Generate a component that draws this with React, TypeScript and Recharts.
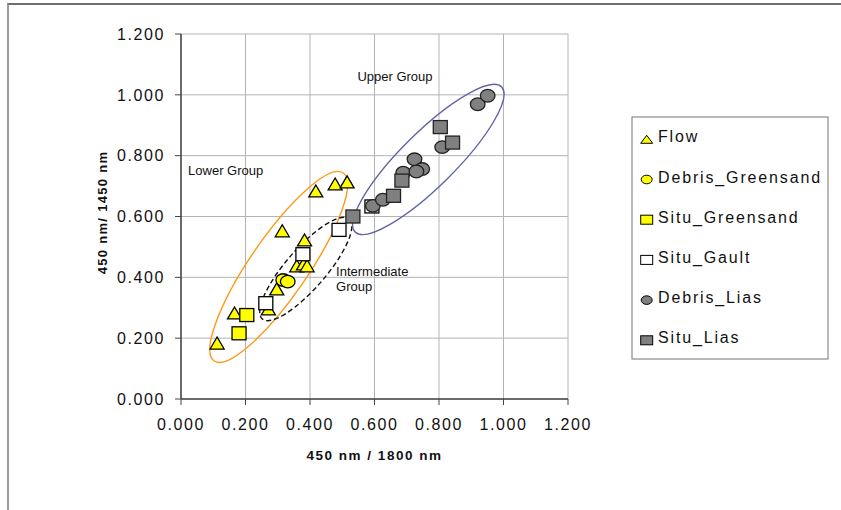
import React from "react";
import {
  CartesianGrid,
  Label,
  ReferenceArea,
  ReferenceDot,
  Scatter,
  ScatterChart,
  XAxis,
  YAxis,
} from "recharts";

// [x, y] readings, 450/1800 vs 450/1450
const flow = [
  [0.112, 0.184], [0.166, 0.283], [0.314, 0.553], [0.418, 0.684], [0.478, 0.707],
  [0.515, 0.714], [0.383, 0.523], [0.359, 0.438], [0.38, 0.444], [0.391, 0.438],
  [0.297, 0.362], [0.271, 0.296],
];
const debrisGreensand = [[0.317, 0.391], [0.331, 0.386]];
const situGreensand = [[0.204, 0.276], [0.18, 0.216]];
const situGault = [[0.263, 0.315], [0.378, 0.476], [0.49, 0.556], [0.592, 0.633]];
const debrisLias = [
  [0.595, 0.635], [0.626, 0.655], [0.689, 0.744], [0.724, 0.788], [0.748, 0.756],
  [0.73, 0.748], [0.81, 0.828], [0.92, 0.969], [0.951, 0.997],
];
const situLias = [[0.533, 0.6], [0.659, 0.668], [0.685, 0.718], [0.804, 0.894], [0.842, 0.843]];

const xTicks = [0, 0.2, 0.4, 0.6, 0.8, 1.0, 1.2];
const yTicks = [0, 0.2, 0.4, 0.6, 0.8, 1.0, 1.2];

// group outlines: ends of the long axis, in data units
const groupNames = ["Lower", "Intermediate", "Upper"];
const groupX1 = [0.103, 0.252, 0.54];
const groupY1 = [0.125, 0.263, 0.549];
const groupX2 = [0.503, 0.522, 0.994];
const groupY2 = [0.743, 0.592, 1.026];

// annotation anchors (text baseline, left)
const noteLines = [["Lower Group"], ["Intermediate", "Group"], ["Upper Group"]];
const noteX = [0.022, 0.481, 0.547];
const noteY = [0.737, 0.405, 1.046];

const toPts = (arr: number[][]) => arr.map(([x, y]) => ({ x, y }));

const FONT = "'Liberation Sans', Arial, sans-serif";

const outlineStyle: Record<string, { stroke: string; ry: number; dash?: string }> = {
  Lower: { stroke: "#ff9912", ry: 29 },
  Intermediate: { stroke: "#111", ry: 20, dash: "5 3" },
  Upper: { stroke: "#6264a8", ry: 27 },
};

function triangle(fill: string) {
  return (p: any) => (
    <polygon
      points={`${p.cx - 7},${p.cy + 6} ${p.cx + 7},${p.cy + 6} ${p.cx},${p.cy - 6}`}
      fill={fill}
      stroke="#000"
      strokeWidth={1.3}
    />
  );
}
function square(fill: string, stroke = "#000") {
  return (p: any) => (
    <rect x={p.cx - 7} y={p.cy - 6.5} width={14} height={13} fill={fill} stroke={stroke} strokeWidth={1.3} />
  );
}
function circle(fill: string, stroke = "#000") {
  return (p: any) => <ellipse cx={p.cx} cy={p.cy} rx={7.3} ry={6.3} fill={fill} stroke={stroke} strokeWidth={1.3} />;
}

function outline(name: string) {
  const s = outlineStyle[name];
  return (p: any) => {
    const cx = p.x + p.width / 2;
    const cy = p.y + p.height / 2;
    const rx = Math.hypot(p.width, p.height) / 2;
    const ang = (-Math.atan2(p.height, p.width) * 180) / Math.PI;
    return (
      <ellipse
        cx={cx}
        cy={cy}
        rx={rx}
        ry={s.ry}
        transform={`rotate(${ang} ${cx} ${cy})`}
        fill="none"
        stroke={s.stroke}
        strokeWidth={1.4}
        strokeDasharray={s.dash}
      />
    );
  };
}

function note(lines: string[]) {
  return (p: any) => (
    <text x={p.cx} y={p.cy} fontFamily={FONT} fontSize={13} fill="#111">
      {lines.map((l, i) => (
        <tspan key={l} x={p.cx} dy={i === 0 ? 0 : 15}>
          {l}
        </tspan>
      ))}
    </text>
  );
}

const XTick = (p: any) => (
  <text x={p.x} y={p.y + 23} textAnchor="middle" fontFamily={FONT} fontSize={16} letterSpacing={1.6} fill="#111">
    {Number(p.payload.value).toFixed(3)}
  </text>
);
const YTick = (p: any) => (
  <text x={p.x} y={p.y} dy="0.36em" textAnchor="end" fontFamily={FONT} fontSize={16} letterSpacing={1.6} fill="#111">
    {Number(p.payload.value).toFixed(3)}
  </text>
);

const XTitle = (p: any) => {
  const vb = p.viewBox || { x: 181, y: 399, width: 387 };
  return (
    <text
      x={vb.x + vb.width / 2}
      y={vb.y + 61}
      textAnchor="middle"
      fontFamily={FONT}
      fontWeight="bold"
      fontSize={13.5}
      letterSpacing={1.5}
      fill="#111"
    >
      450 nm / 1800 nm
    </text>
  );
};
const YTitle = (p: any) => {
  const vb = p.viewBox || { x: 101, y: 34, height: 365 };
  const x = vb.x + 6;
  const y = vb.y + vb.height / 2 - 4;
  return (
    <text
      x={x}
      y={y}
      transform={`rotate(-90 ${x} ${y})`}
      textAnchor="middle"
      fontFamily={FONT}
      fontWeight="bold"
      fontSize={13}
      letterSpacing={1.3}
      fill="#111"
    >
      450 nm/ 1450 nm
    </text>
  );
};

const legendItems = [
  { name: "Flow", kind: "tri", fill: "#ffff00" },
  { name: "Debris_Greensand", kind: "circ", fill: "#ffff00" },
  { name: "Situ_Greensand", kind: "sq", fill: "#ffff00" },
  { name: "Situ_Gault", kind: "sq", fill: "#ffffff" },
  { name: "Debris_Lias", kind: "circ", fill: "#808080" },
  { name: "Situ_Lias", kind: "sq", fill: "#808080" },
];

function LegendBox() {
  return (
    <svg style={{ position: "absolute", left: 631, top: 116 }} width={199} height={245}>
      <rect x={1} y={1} width={196} height={242} fill="#fff" stroke="#8a8a8a" strokeWidth={1.2} />
      {legendItems.map((it, i) => {
        const base = 26.3 + i * 40.2;
        const cx = 15.7;
        const cy = base - 3;
        let icon;
        if (it.kind === "tri")
          icon = <polygon points={`${cx - 6},${cy + 4} ${cx + 6},${cy + 4} ${cx},${cy - 4}`} fill={it.fill} stroke="#000" strokeWidth={1} />;
        else if (it.kind === "circ")
          icon = <ellipse cx={cx} cy={cy} rx={5.5} ry={4.3} fill={it.fill} stroke="#000" strokeWidth={1} />;
        else icon = <rect x={cx - 6} y={cy - 4.5} width={12} height={9} fill={it.fill} stroke="#000" strokeWidth={1} />;
        return (
          <g key={it.name}>
            {icon}
            <text x={27} y={base} fontFamily={FONT} fontSize={16} letterSpacing={1.85} fill="#111">
              {it.name}
            </text>
          </g>
        );
      })}
    </svg>
  );
}

export default function App() {
  return (
    <div style={{ position: "absolute", left: 0, top: 0, width: 841, height: 510, overflow: "hidden", background: "#fff" }}>
      <div
        style={{
          position: "absolute",
          left: 7,
          top: 3,
          width: 900,
          height: 600,
          borderTop: "2px solid #6e6e6e",
          borderLeft: "2px solid #9a9a9a",
        }}
      />
      <div style={{ position: "absolute", left: 0, top: 0 }}>
        <ScatterChart width={841} height={510} margin={{ top: 34, right: 273, bottom: 51, left: 101 }}>
          <CartesianGrid stroke="#b4b4b4" strokeWidth={1} />
          <XAxis
            type="number"
            dataKey="x"
            domain={[0, 1.2]}
            ticks={xTicks}
            interval={0}
            height={60}
            tickSize={6}
            tickMargin={2}
            tick={<XTick />}
            stroke="#444"
            axisLine={{ stroke: "#444", strokeWidth: 1.5 }}
            allowDataOverflow
          >
            <Label content={<XTitle />} />
          </XAxis>
          <YAxis
            type="number"
            dataKey="y"
            domain={[0, 1.2]}
            ticks={yTicks}
            interval={0}
            width={80}
            tickSize={6}
            tickMargin={10}
            tick={<YTick />}
            stroke="#444"
            axisLine={{ stroke: "#444", strokeWidth: 1.5 }}
            allowDataOverflow
          >
            <Label content={<YTitle />} />
          </YAxis>
          <Scatter name="Flow" data={toPts(flow)} shape={triangle("#ffff00")} isAnimationActive={false} />
          <Scatter name="Debris_Greensand" data={toPts(debrisGreensand)} shape={circle("#ffff00")} isAnimationActive={false} />
          <Scatter name="Situ_Greensand" data={toPts(situGreensand)} shape={square("#ffff00")} isAnimationActive={false} />
          <Scatter name="Situ_Gault" data={toPts(situGault)} shape={square("#ffffff")} isAnimationActive={false} />
          <Scatter name="Debris_Lias" data={toPts(debrisLias)} shape={circle("#808080", "#222")} isAnimationActive={false} />
          <Scatter name="Situ_Lias" data={toPts(situLias)} shape={square("#808080", "#222")} isAnimationActive={false} />
          {groupNames.map((g, i) => (
            <ReferenceArea
              key={g}
              x1={groupX1[i]}
              x2={groupX2[i]}
              y1={groupY1[i]}
              y2={groupY2[i]}
              shape={outline(g)}
              ifOverflow="visible"
            />
          ))}
          {noteLines.map((lines, i) => (
            <ReferenceDot key={lines[0]} x={noteX[i]} y={noteY[i]} r={0} shape={note(lines)} ifOverflow="visible" />
          ))}
        </ScatterChart>
      </div>
      <LegendBox />
    </div>
  );
}
